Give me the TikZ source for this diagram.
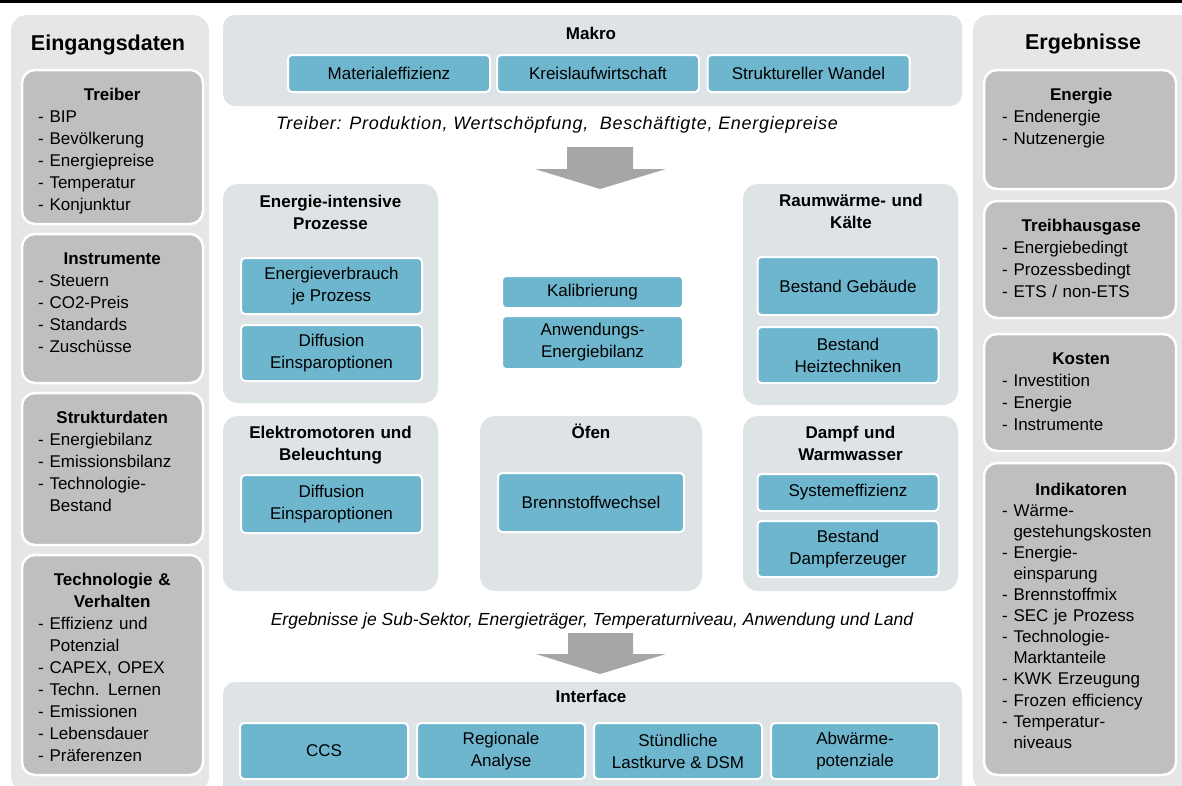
\documentclass[tikz,border=0pt]{standalone}
\usepackage{fontspec}
\setmainfont{Liberation Sans}
\usetikzlibrary{fit}

\definecolor{panelgray}{HTML}{E6E6E6}
\definecolor{listgray}{HTML}{BFBFBF}
\definecolor{sectorgray}{HTML}{DEE3E6}
\definecolor{boxblue}{HTML}{6EB6CE}
\definecolor{arrowgray}{HTML}{A6A6A6}

\tikzset{
  panel/.style={fill=panelgray, rounded corners=16pt, inner sep=0pt},
  sector/.style={fill=sectorgray, rounded corners=15pt, inner sep=0pt},
  listbox/.style={fill=listgray, draw=white, line width=2.5pt, rounded corners=13pt, inner sep=0pt},
  listtext/.style={anchor=base west, inner sep=0pt, align=left, font=\fontsize{17}{22}\selectfont},
  intext/.style={listtext, text width=148pt},
  outtext/.style={listtext, text width=158pt},
  bluebox/.style={fill=boxblue, draw=white, line width=2pt, rounded corners=4pt, inner sep=0pt, align=center, font=\fontsize{17}{22}\selectfont},
  midbox/.style={bluebox, minimum width=181pt},
  makrobox/.style={bluebox, minimum width=202pt, minimum height=37pt},
  ifbox/.style={bluebox, minimum width=168pt, minimum height=56pt},
  panelhead/.style={anchor=base, inner sep=0pt, font=\fontsize{21.5}{26}\selectfont\bfseries},
  sectitle/.style={anchor=base, inner sep=0pt, text width=210pt, align=center, font=\fontsize{17}{22}\selectfont\bfseries},
  captext/.style={anchor=base, inner sep=0pt, font=\fontsize{17.5}{20}\selectfont\itshape},
  bigarrow/.style={fill=arrowgray}
}

\begin{document}
\begin{tikzpicture}[x=1pt,y=-1pt]
\useasboundingbox (0,0) rectangle (1182,785);
\fill (0,0) rectangle (1182,3);

% Eingangsdaten
\node[panel, fit={(11,15) (209,792)}] (inputs) {};
\node[panelhead] (inhead) at (108,50) {Eingangsdaten};
\node[listbox, fit={(22,70) (203,224)}] (treiber) {};
\node[intext] (treibertxt) at (38,100) {{\centering\bfseries Treiber\par}- BIP\\- Bevölkerung\\- Energiepreise\\- Temperatur\\- Konjunktur};
\node[listbox, fit={(22,234) (203,383)}] (instr) {};
\node[intext] (instrtxt) at (38,264) {{\centering\bfseries Instrumente\par}- Steuern\\- CO2-Preis\\- Standards\\- Zuschüsse};
\node[listbox, fit={(22,393) (203,545)}] (struct) {};
\node[intext] (structtxt) at (38,423) {{\centering\bfseries Strukturdaten\par}- Energiebilanz\\- Emissionsbilanz\\- Technologie-\\\phantom{- }Bestand};
\node[listbox, fit={(22,555) (203,775)}] (techn) {};
\node[intext] (techntxt) at (38,585) {{\centering\bfseries Technologie \&\\Verhalten\par}- Effizienz und\\\phantom{- }Potenzial\\- CAPEX, OPEX\\- Techn. Lernen\\- Emissionen\\- Lebensdauer\\- Präferenzen};

% Ergebnisse
\node[panel, fit={(973,15) (1195,792)}] (results) {};
\node[panelhead] (outhead) at (1083,49) {Ergebnisse};
\node[listbox, fit={(984,70) (1176,189)}] (energie) {};
\node[outtext] (energietxt) at (1002,100) {{\centering\bfseries Energie\par}- Endenergie\\- Nutzenergie};
\node[listbox, fit={(984,201) (1176,318)}] (thg) {};
\node[outtext] (thgtxt) at (1002,231) {{\centering\bfseries Treibhausgase\par}- Energiebedingt\\- Prozessbedingt\\- ETS / non-ETS};
\node[listbox, fit={(984,334) (1176,451)}] (kosten) {};
\node[outtext] (kostentxt) at (1002,364) {{\centering\bfseries Kosten\par}- Investition\\- Energie\\- Instrumente};
\node[listbox, fit={(984,463) (1176,775)}] (indik) {};
\node[outtext, font=\fontsize{17}{21.1}\selectfont] (indiktxt) at (1002,495) {{\centering\bfseries Indikatoren\par}- Wärme-\\\phantom{- }gestehungskosten\\- Energie-\\\phantom{- }einsparung\\- Brennstoffmix\\- SEC je Prozess\\- Technologie-\\\phantom{- }Marktanteile\\- KWK Erzeugung\\- Frozen efficiency\\- Temperatur-\\\phantom{- }niveaus};

% Makro
\node[sector, rounded corners=12pt, fit={(223,15) (962,106)}] (makro) {};
\node[sectitle] (makrohead) at (591,39) {Makro};
\node[makrobox] (matef) at (389,73.5) {Materialeffizienz};
\node[makrobox] (kreis) at (598,73.5) {Kreislaufwirtschaft};
\node[makrobox] (struktw) at (808.5,73.5) {Struktureller Wandel};
\node[captext, font=\fontsize{18}{20}\selectfont\itshape\addfontfeature{LetterSpace=4}] (drivers) at (557,129) {Treiber: Produktion, Wertschöpfung,\ \ Beschäftigte, Energiepreise};
\fill[bigarrow] (567,147) -- (633,147) -- (633,169) -- (666,169) -- (600,189) -- (535,169) -- (567,169) -- cycle;

% Sektoren, obere Reihe
\node[sector, fit={(223,184) (438,403)}] (prozesse) {};
\node[sectitle] (prozessehead) at (330.5,207) {Energie-intensive\\Prozesse};
\node[midbox, minimum height=56pt] (verbrauch) at (331.5,286) {Energieverbrauch\\je Prozess};
\node[midbox, minimum height=56pt] (diffus) at (331.5,353) {Diffusion\\Einsparoptionen};
\node[midbox, minimum height=32pt] (kalib) at (592.5,292) {Kalibrierung};
\node[midbox, minimum height=53pt] (anwend) at (592.5,342.5) {Anwendungs-\\Energiebilanz};
\node[sector, fit={(743,184) (958,405)}] (raum) {};
\node[sectitle] (raumhead) at (851,206) {Raumwärme- und\\Kälte};
\node[midbox, minimum height=58pt] (gebaeude) at (848,286) {Bestand Gebäude};
\node[midbox, minimum height=56pt] (heiz) at (848,355) {Bestand\\Heiztechniken};

% Sektoren, untere Reihe
\node[sector, fit={(223,416) (438,591)}] (motoren) {};
\node[sectitle] (motorenhead) at (330.5,438) {Elektromotoren und\\Beleuchtung};
\node[midbox, minimum height=58pt] (diffmot) at (331.5,504) {Diffusion\\Einsparoptionen};
\node[sector, fit={(480,416) (702,591)}] (oefen) {};
\node[sectitle] (oefenhead) at (591,438) {Öfen};
\node[midbox, minimum width=186pt, minimum height=59pt] (brenn) at (591,502.5) {Brennstoffwechsel};
\node[sector, fit={(743,416) (958,591)}] (dampf) {};
\node[sectitle] (dampfhead) at (850.5,438) {Dampf und\\Warmwasser};
\node[midbox, minimum height=37pt] (syseff) at (848,492.5) {Systemeffizienz};
\node[midbox, minimum height=56pt] (dampferz) at (848,549) {Bestand\\Dampferzeuger};

\node[captext] (outputs) at (592,625) {Ergebnisse je Sub-Sektor, Energieträger, Temperaturniveau, Anwendung und Land};
\fill[bigarrow] (568,633) -- (633,633) -- (633,654) -- (666,654) -- (600,674) -- (536,654) -- (568,654) -- cycle;

% Interface
\node[sector, rounded corners=12pt, fit={(223,682) (962,800)}] (iface) {};
\node[sectitle] (ifacehead) at (591,702) {Interface};
\node[ifbox] (ccs) at (324,751) {CCS};
\node[ifbox] (regio) at (501,751) {Regionale\\Analyse};
\node[ifbox] (last) at (678,751) {Stündliche\\Lastkurve \& DSM};
\node[ifbox] (abw) at (855,751) {Abwärme-\\potenziale};
\end{tikzpicture}
\end{document}
